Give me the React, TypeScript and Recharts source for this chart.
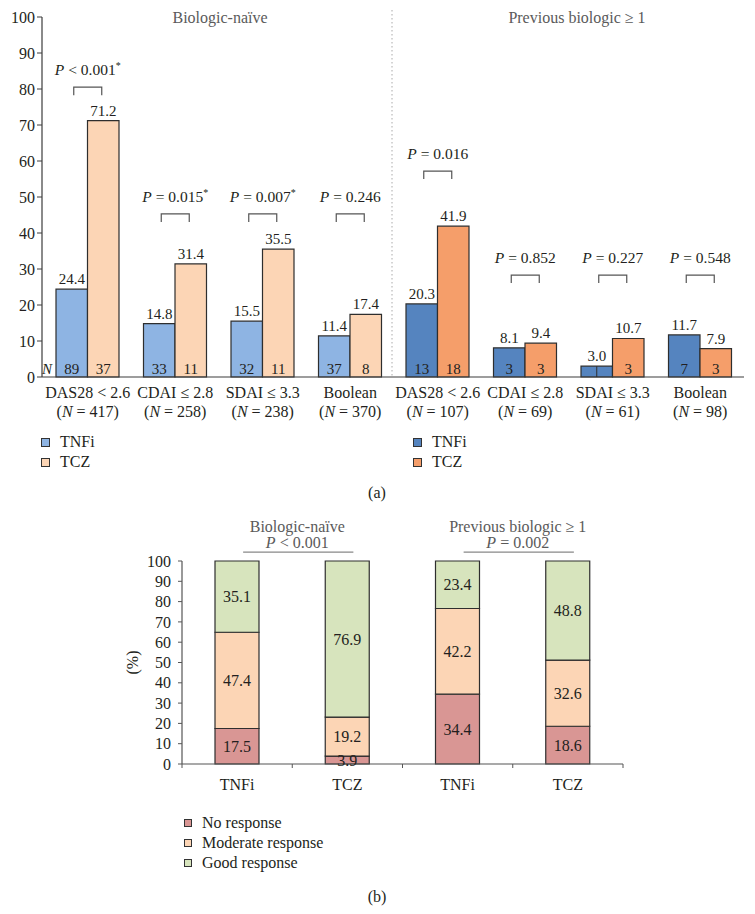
import React from "react";
import {
  BarChart,
  Bar,
  XAxis,
  YAxis,
  Cell,
  LabelList,
  ReferenceDot,
  ReferenceLine,
} from "recharts";

const FONT = '"Liberation Serif", "Times New Roman", serif';
const INK = "#231f20";
const GREY = "#5a5a5a";
const EDGE = "#2e2e2e";

// (a) remission by criterion
const criteria = [
  "DAS28 < 2.6",
  "CDAI ≤ 2.8",
  "SDAI ≤ 3.3",
  "Boolean",
  "DAS28 < 2.6",
  "CDAI ≤ 2.8",
  "SDAI ≤ 3.3",
  "Boolean",
];
const cohort = ["naive", "naive", "naive", "naive", "prev", "prev", "prev", "prev"];
const totalN = [417, 258, 238, 370, 107, 69, 61, 98];
const tnfiPct = [24.4, 14.8, 15.5, 11.4, 20.3, 8.1, 3.0, 11.7];
const tczPct = [71.2, 31.4, 35.5, 17.4, 41.9, 9.4, 10.7, 7.9];
const tnfiN = [89, 33, 32, 37, 13, 3, 3, 7];
const tczN = [37, 11, 11, 8, 18, 3, 3, 3];
const pText = [
  "< 0.001",
  "= 0.015",
  "= 0.007",
  "= 0.246",
  "= 0.016",
  "= 0.852",
  "= 0.227",
  "= 0.548",
];
const pStar = [true, true, true, false, false, false, false, false];
const bracketAt = [80.5, 45.3, 45.3, 45.3, 57.2, 28.3, 28.3, 28.3];
const pctTicks = [0, 10, 20, 30, 40, 50, 60, 70, 80, 90, 100];

// (b) EULAR response
const armKeys = ["naive-TNFi", "naive-TCZ", "prev-TNFi", "prev-TCZ"];
const armNames = ["TNFi", "TCZ", "TNFi", "TCZ"];
const noResponse = [17.5, 3.9, 34.4, 18.6];
const moderate = [47.4, 19.2, 42.2, 32.6];
const good = [35.1, 76.9, 23.4, 48.8];
const cohortTitles = ["Biologic-naïve", "Previous biologic ≥ 1"];
const cohortP = ["< 0.001", "= 0.002"];

const tnfiColor: Record<string, string> = { naive: "#8eb4e3", prev: "#5584bf" };
const tczColor: Record<string, string> = { naive: "#fcd5b5", prev: "#f59e6a" };
const respColors = ["#d99694", "#fcd5b5", "#d7e4bd"];

// plot geometry (a): y axis at 42, 2px pad, 11px right margin -> 8 bands
const A_BAND = (755 - 42 - 2 - 11) / 8;
// plot geometry (b): 182..623 -> 4 bands
const B_BAND = (755 - 182 - 132) / 4;

const remissionData = criteria.map((c, i) => ({
  key: `${cohort[i]}-${i}`,
  criterion: c,
  total: totalN[i],
  cohort: cohort[i],
  tnfi: tnfiPct[i],
  tcz: tczPct[i],
  tnfiN: tnfiN[i],
  tczN: tczN[i],
}));

const responseData = armKeys.map((k, i) => ({
  key: k,
  name: armNames[i],
  none: noResponse[i],
  moderate: moderate[i],
  good: good[i],
}));

const box = (p: any) => {
  const v = p.viewBox ?? p;
  return { x: v.x ?? p.x, y: v.y ?? p.y, width: v.width ?? p.width, height: v.height ?? p.height };
};

const valueLabel = (p: any) => {
  const { x, y, width } = box(p);
  return (
    <text x={x + width / 2} y={y - 5} textAnchor="middle" fill={INK} fontSize={15} fontFamily={FONT}>
      {Number(p.value).toFixed(1)}
    </text>
  );
};

const nLabel = (first: boolean) => (p: any) => {
  const { x, y, width, height } = box(p);
  // too short for the digit: only a hairline shows in the source
  if (height < 14) {
    return <line x1={x + width / 2} x2={x + width / 2} y1={y} y2={y + height} stroke={EDGE} strokeWidth={1} />;
  }
  return (
    <g fontSize={15} fontFamily={FONT} fill={INK}>
      {first && p.index === 0 && (
        <text x={x - 9} y={y + height - 3} textAnchor="middle" fontStyle="italic" fill={INK}>
          N
        </text>
      )}
      <text x={x + width / 2} y={y + height - 3} textAnchor="middle" fill={INK}>
        {p.value}
      </text>
    </g>
  );
};

const bracket = (i: number) => (p: any) => {
  const { cx, cy } = p;
  return (
    <g>
      <path d={`M${cx - 14},${cy + 8}V${cy}H${cx + 14}V${cy + 8}`} fill="none" stroke="#555" strokeWidth={1.2} />
      <text x={cx} y={cy - 12} textAnchor="middle" fill={INK} fontSize={15.5} fontFamily={FONT}>
        <tspan fontStyle="italic">P</tspan>
        <tspan> {pText[i]}</tspan>
        {pStar[i] && (
          <tspan dy={-6} fontSize={10}>
            *
          </tspan>
        )}
      </text>
    </g>
  );
};

// dotted divider on the right edge of the last biologic-naive band
const dividerShape = (p: any) => {
  const x = p.x1 + A_BAND / 2 - 2;
  const top = Math.min(p.y1, p.y2);
  const bottom = Math.max(p.y1, p.y2);
  return <line x1={x} x2={x} y1={top - 7} y2={bottom} stroke="#aaa" strokeWidth={1} strokeDasharray="1.5 2.5" />;
};

// tick marks on band edges of the (b) axis
const edgeTick = (last: boolean) => (p: any) => {
  const bottom = Math.max(p.y1, p.y2);
  const xs = last ? [p.x1 - B_BAND / 2, p.x1 + B_BAND / 2] : [p.x1 - B_BAND / 2];
  return (
    <g>
      {xs.map((x, i) => (
        <line key={i} x1={x} x2={x} y1={bottom} y2={bottom + 4} stroke="#555" strokeWidth={1} />
      ))}
    </g>
  );
};

const CriterionTick = (props: any) => {
  const { x, y, payload } = props;
  const d = remissionData.find((r) => r.key === payload.value);
  if (!d) return null;
  return (
    <g fontFamily={FONT} fontSize={16} fill={INK}>
      <text x={x} y={y + 21} textAnchor="middle" fill={INK}>
        {d.criterion}
      </text>
      <text x={x} y={y + 40} textAnchor="middle" fill={INK}>
        (<tspan fontStyle="italic">N</tspan> = {d.total})
      </text>
    </g>
  );
};

const ArmTick = (props: any) => {
  const { x, y, payload } = props;
  const d = responseData.find((r) => r.key === payload.value);
  return (
    <text x={x} y={y + 25.5} textAnchor="middle" fill={INK} fontSize={16} fontFamily={FONT}>
      {d ? d.name : ""}
    </text>
  );
};

const cohortLabel = (i: number) => (p: any) => {
  const v = p.viewBox ?? {};
  const cx = v.x + (v.width ?? 0) / 2 + 5;
  return (
    <g fontFamily={FONT} fontSize={16} fill={GREY}>
      <text x={cx} y={v.y - 20.5} textAnchor="middle" fill={GREY}>
        {cohortTitles[i]}
      </text>
      <text x={cx} y={v.y - 4.5} textAnchor="middle" fill={GREY}>
        <tspan fontStyle="italic">P</tspan> {cohortP[i]}
      </text>
    </g>
  );
};

const cohortRule = (p: any) => (
  <line x1={p.x1 + 6} x2={p.x2 + 6} y1={p.y1} y2={p.y2} stroke="#888" strokeWidth={1.2} />
);

function LegendItem({ left, top, color, label, size }: { left: number; top: number; color: string; label: string; size: number }) {
  return (
    <div style={{ position: "absolute", left, top, display: "flex", alignItems: "center", height: 20 }}>
      <span
        style={{
          width: size,
          height: size,
          background: color,
          border: "1px solid #333",
          boxSizing: "border-box",
          display: "inline-block",
        }}
      />
      <span style={{ marginLeft: 10, fontSize: 16, color: INK, fontFamily: FONT }}>{label}</span>
    </div>
  );
}

const heads = [
  { left: 220, top: 9, text: "Biologic-naïve", color: GREY },
  { left: 577, top: 9, text: "Previous biologic ≥ 1", color: GREY },
  { left: 377, top: 484, text: "(a)", color: INK },
  { left: 377, top: 888, text: "(b)", color: INK },
];

export default function App() {
  return (
    <div style={{ position: "relative", width: 755, height: 914, fontFamily: FONT, background: "#fff" }}>
      <style>{"body{margin:0}"}</style>

      {heads.map((h, i) => (
        <div
          key={i}
          style={{
            position: "absolute",
            left: h.left,
            top: h.top,
            transform: "translateX(-50%)",
            whiteSpace: "nowrap",
            fontSize: 16,
            lineHeight: "18px",
            color: h.color,
          }}
        >
          {h.text}
        </div>
      ))}

      <div style={{ position: "absolute", left: 0, top: 0 }}>
        <BarChart
          width={755}
          height={430}
          data={remissionData}
          margin={{ top: 17, right: 11, left: 0, bottom: 13 }}
          barGap={0}
        >
          <XAxis
            dataKey="key"
            height={40}
            padding={{ left: 2, right: 0 }}
            tickLine={false}
            tickSize={0}
            tickMargin={0}
            axisLine={{ stroke: "#3c3c3c", strokeWidth: 1.2 }}
            tick={<CriterionTick />}
            interval={0}
          />
          <YAxis
            width={42}
            domain={[0, 100]}
            ticks={pctTicks}
            interval={0}
            tickSize={5}
            tickMargin={2}
            axisLine={{ stroke: "#3c3c3c", strokeWidth: 1.2 }}
            tickLine={{ stroke: "#3c3c3c" }}
            tick={{ fill: INK, fontSize: 16, fontFamily: FONT }}
          />
          <ReferenceLine x={remissionData[3].key} ifOverflow="visible" shape={dividerShape} />
          <Bar dataKey="tnfi" barSize={31.5} stroke={EDGE} strokeWidth={1.2} isAnimationActive={false}>
            {remissionData.map((d) => (
              <Cell key={d.key} fill={tnfiColor[d.cohort]} />
            ))}
            <LabelList dataKey="tnfi" content={valueLabel} />
            <LabelList dataKey="tnfiN" content={nLabel(true)} />
          </Bar>
          <Bar dataKey="tcz" barSize={31.5} stroke={EDGE} strokeWidth={1.2} isAnimationActive={false}>
            {remissionData.map((d) => (
              <Cell key={d.key} fill={tczColor[d.cohort]} />
            ))}
            <LabelList dataKey="tcz" content={valueLabel} />
            <LabelList dataKey="tczN" content={nLabel(false)} />
          </Bar>
          {remissionData.map((d, i) => (
            <ReferenceDot key={d.key} x={d.key} y={bracketAt[i]} ifOverflow="visible" shape={bracket(i)} />
          ))}
        </BarChart>
      </div>

      <LegendItem left={41} top={432} color={tnfiColor.naive} label="TNFi" size={9} />
      <LegendItem left={41} top={452} color={tczColor.naive} label="TCZ" size={9} />
      <LegendItem left={413} top={432} color={tnfiColor.prev} label="TNFi" size={9} />
      <LegendItem left={413} top={452} color={tczColor.prev} label="TCZ" size={9} />

      <div style={{ position: "absolute", left: 0, top: 500 }}>
        <BarChart
          width={755}
          height={300}
          data={responseData}
          margin={{ top: 61, right: 132, left: 130, bottom: 6 }}
        >
          <XAxis
            dataKey="key"
            height={30}
            tickLine={false}
            tickSize={0}
            tickMargin={0}
            axisLine={{ stroke: "#555", strokeWidth: 1.2 }}
            tick={<ArmTick />}
            interval={0}
          />
          <YAxis
            width={52}
            domain={[0, 100]}
            ticks={pctTicks}
            interval={0}
            tickSize={4}
            tickMargin={7}
            axisLine={{ stroke: "#555", strokeWidth: 1.2 }}
            tickLine={{ stroke: "#555" }}
            tick={{ fill: INK, fontSize: 16, fontFamily: FONT }}
            label={{
              value: "(%)",
              angle: -90,
              position: "insideLeft",
              offset: 2,
              style: { textAnchor: "middle", fill: INK, fontSize: 16, fontFamily: FONT },
            }}
          />
          {armKeys.map((k, i) => (
            <ReferenceLine key={k} x={k} ifOverflow="visible" shape={edgeTick(i === armKeys.length - 1)} />
          ))}
          {[0, 1].map((g) => (
            <ReferenceLine
              key={g}
              segment={[
                { x: armKeys[g * 2], y: 104.4 },
                { x: armKeys[g * 2 + 1], y: 104.4 },
              ]}
              ifOverflow="visible"
              shape={cohortRule}
              label={cohortLabel(g)}
            />
          ))}
          <Bar dataKey="none" stackId="r" barSize={44} fill={respColors[0]} stroke={EDGE} strokeWidth={1.2} isAnimationActive={false}>
            <LabelList dataKey="none" position="center" fill={INK} fontSize={16} fontFamily={FONT} formatter={(v: any) => Number(v).toFixed(1)} />
          </Bar>
          <Bar dataKey="moderate" stackId="r" barSize={44} fill={respColors[1]} stroke={EDGE} strokeWidth={1.2} isAnimationActive={false}>
            <LabelList dataKey="moderate" position="center" fill={INK} fontSize={16} fontFamily={FONT} formatter={(v: any) => Number(v).toFixed(1)} />
          </Bar>
          <Bar dataKey="good" stackId="r" barSize={44} fill={respColors[2]} stroke={EDGE} strokeWidth={1.2} isAnimationActive={false}>
            <LabelList dataKey="good" position="center" fill={INK} fontSize={16} fontFamily={FONT} formatter={(v: any) => Number(v).toFixed(1)} />
          </Bar>
        </BarChart>
      </div>

      <LegendItem left={184} top={813} color={respColors[0]} label="No response" size={8} />
      <LegendItem left={184} top={833} color={respColors[1]} label="Moderate response" size={8} />
      <LegendItem left={184} top={853} color={respColors[2]} label="Good response" size={8} />
    </div>
  );
}
